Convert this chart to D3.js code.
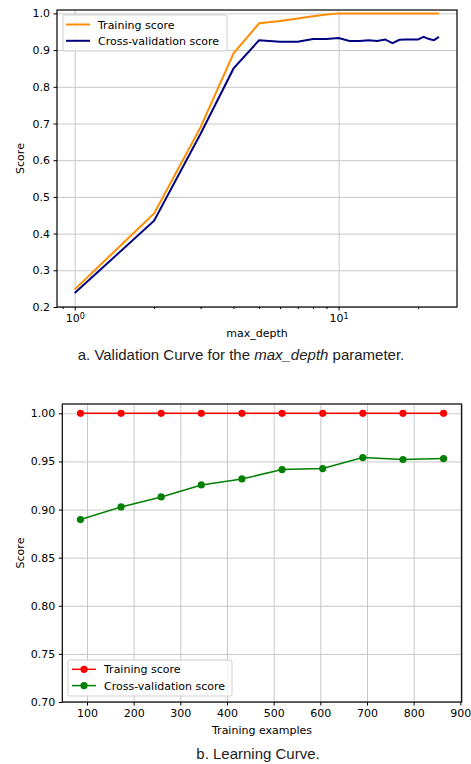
<!DOCTYPE html>
<html>
<head>
<meta charset="utf-8">
<script src="https://cdn.jsdelivr.net/npm/d3@7"></script>
<style>
    body { margin: 0; background: #fff; }
    svg { display: block; }
    .tick text { font-family: "DejaVu Sans", sans-serif; font-size: 11px; fill: #000; }
    .grid line { stroke: #c8c8c8; stroke-width: 1; }
    .grid path { display: none; }
    .lbl { font-family: "DejaVu Sans", sans-serif; font-size: 11px; fill: #000; }
    .caption { font-family: "Liberation Sans", Arial, sans-serif; font-size: 15px; fill: #222; }
</style>
</head>
<body>
<svg width="471" height="764"></svg>
<script>
// validation curve (max_depth)
const depths = [1, 2, 3, 4, 5, 6, 7, 8, 9, 10, 11, 12, 13, 14, 15, 16, 17, 18, 19, 20, 21, 22, 23, 24];
const depthTrain = [0.248, 0.455, 0.690, 0.891, 0.973, 0.979, 0.986, 0.992, 0.997, 1.0, 1.0, 1.0,
    1.0, 1.0, 1.0, 1.0, 1.0, 1.0, 1.0, 1.0, 1.0, 1.0, 1.0, 1.0];
const depthCV = [0.238, 0.435, 0.672, 0.850, 0.927, 0.923, 0.923, 0.930, 0.930, 0.933, 0.925, 0.925,
    0.927, 0.925, 0.929, 0.919, 0.928, 0.929, 0.929, 0.929, 0.936, 0.930, 0.927, 0.936];

// learning curve
const sizes = [86, 173, 259, 345, 432, 518, 605, 691, 777, 864];
const sizeTrain = [1.0, 1.0, 1.0, 1.0, 1.0, 1.0, 1.0, 1.0, 1.0, 1.0];
const sizeCV = [0.8896, 0.9027, 0.9131, 0.9256, 0.9318, 0.9416, 0.9426, 0.9540, 0.9520, 0.9530];

const yTicksA = [0.2, 0.3, 0.4, 0.5, 0.6, 0.7, 0.8, 0.9, 1.0];
const yTicksB = [0.70, 0.75, 0.80, 0.85, 0.90, 0.95, 1.00];
const xTicksB = [100, 200, 300, 400, 500, 600, 700, 800, 900];

const svg = d3.select("svg");

// ---------- chart a ----------
const a = {left: 57, right: 457, top: 10, bottom: 307};
const xa = d3.scaleLog().domain([0.857, 28.1]).range([a.left, a.right]);
const ya = d3.scaleLinear().domain([0.2, 1.0092]).range([a.bottom, a.top]);

const ga = svg.append("g");
ga.append("g").attr("class", "grid")
    .attr("transform", `translate(0,${a.bottom})`)
    .call(d3.axisBottom(xa).tickValues([1, 10]).tickSize(-(a.bottom - a.top)).tickFormat(""));
ga.append("g").attr("class", "grid")
    .attr("transform", `translate(${a.left},0)`)
    .call(d3.axisLeft(ya).tickValues(yTicksA).tickSize(-(a.right - a.left)).tickFormat(""));

const lineA = d3.line().x((d, i) => xa(depths[i])).y(d => ya(d));
ga.append("path").datum(depthTrain)
    .attr("d", lineA).attr("fill", "none").attr("stroke", "#ff8c00").attr("stroke-width", 2);
ga.append("path").datum(depthCV)
    .attr("d", lineA).attr("fill", "none").attr("stroke", "#000080").attr("stroke-width", 2);

ga.append("rect")
    .attr("x", a.left).attr("y", a.top)
    .attr("width", a.right - a.left).attr("height", a.bottom - a.top)
    .attr("fill", "none").attr("stroke", "#000").attr("stroke-width", 1.2);

const xAxisA = ga.append("g")
    .attr("transform", `translate(0,${a.bottom})`)
    .call(d3.axisBottom(xa).tickValues([1, 10]).tickSize(3.5).tickPadding(4).tickFormat(""));
xAxisA.select(".domain").remove();
xAxisA.selectAll(".tick text").each(function (d) {
    const t = d3.select(this);
    t.append("tspan").text("10");
    t.append("tspan").attr("dy", "-0.45em").attr("font-size", "8px").text(Math.round(Math.log10(d)));
});
const minorA = ga.append("g")
    .attr("transform", `translate(0,${a.bottom})`)
    .call(d3.axisBottom(xa).tickValues([0.9, 2, 3, 4, 5, 6, 7, 8, 9, 20]).tickSize(2).tickFormat(""));
minorA.select(".domain").remove();

const yAxisA = ga.append("g")
    .attr("transform", `translate(${a.left},0)`)
    .call(d3.axisLeft(ya).tickValues(yTicksA).tickSize(3.5).tickPadding(3.5).tickFormat(d3.format(".1f")));
yAxisA.select(".domain").remove();

ga.append("text").attr("class", "lbl")
    .attr("x", (a.left + a.right) / 2).attr("y", 337)
    .attr("text-anchor", "middle").text("max_depth");
ga.append("text").attr("class", "lbl")
    .attr("transform", `translate(24,${(a.top + a.bottom) / 2}) rotate(-90)`)
    .attr("text-anchor", "middle").text("Score");

// legend a
const legA = ga.append("g");
legA.append("rect").attr("x", 63).attr("y", 15).attr("width", 164).attr("height", 36)
    .attr("rx", 2).attr("fill", "#fff").attr("fill-opacity", 0.8).attr("stroke", "#d0d0d0");
[["Training score", "#ff8c00"], ["Cross-validation score", "#000080"]].forEach((e, i) => {
    const yy = 24.5 + i * 16.3;
    legA.append("line").attr("x1", 66).attr("x2", 90).attr("y1", yy).attr("y2", yy)
        .attr("stroke", e[1]).attr("stroke-width", 2);
    legA.append("text").attr("class", "lbl").attr("x", 98).attr("y", yy + 4).text(e[0]);
});

const capA = svg.append("text").attr("class", "caption")
    .attr("x", 241).attr("y", 360).attr("text-anchor", "middle");
capA.append("tspan").text("a. Validation Curve for the ");
capA.append("tspan").attr("font-style", "italic").text("max_depth");
capA.append("tspan").text(" parameter.");

// ---------- chart b ----------
const b = {left: 62.3, right: 461.7, top: 404, bottom: 702};
const xb = d3.scaleLinear().domain([47.1, 902.9]).range([b.left, b.right]);
const yb = d3.scaleLinear().domain([0.70, 1.0097]).range([b.bottom, b.top]);

const gb = svg.append("g");
gb.append("g").attr("class", "grid")
    .attr("transform", `translate(0,${b.bottom})`)
    .call(d3.axisBottom(xb).tickValues(xTicksB).tickSize(-(b.bottom - b.top)).tickFormat(""));
gb.append("g").attr("class", "grid")
    .attr("transform", `translate(${b.left},0)`)
    .call(d3.axisLeft(yb).tickValues(yTicksB).tickSize(-(b.right - b.left)).tickFormat(""));

const lineB = d3.line().x((d, i) => xb(sizes[i])).y(d => yb(d));
[[sizeTrain, "#ff0000"], [sizeCV, "#008000"]].forEach(s => {
    gb.append("path").datum(s[0])
        .attr("d", lineB).attr("fill", "none").attr("stroke", s[1]).attr("stroke-width", 1.5);
    gb.selectAll(null).data(s[0]).enter().append("circle")
        .attr("cx", (d, i) => xb(sizes[i])).attr("cy", d => yb(d))
        .attr("r", 3.6).attr("fill", s[1]);
});

gb.append("rect")
    .attr("x", b.left).attr("y", b.top)
    .attr("width", b.right - b.left).attr("height", b.bottom - b.top)
    .attr("fill", "none").attr("stroke", "#000").attr("stroke-width", 1.2);
gb.append("line").attr("x1", b.left).attr("x2", b.right).attr("y1", b.top).attr("y2", b.top)
    .attr("stroke", "#666").attr("stroke-width", 1.5);

const xAxisB = gb.append("g")
    .attr("transform", `translate(0,${b.bottom})`)
    .call(d3.axisBottom(xb).tickValues(xTicksB).tickSize(3.5).tickPadding(4));
xAxisB.select(".domain").remove();
const yAxisB = gb.append("g")
    .attr("transform", `translate(${b.left},0)`)
    .call(d3.axisLeft(yb).tickValues(yTicksB).tickSize(3.5).tickPadding(3.5).tickFormat(d3.format(".2f")));
yAxisB.select(".domain").remove();

gb.append("text").attr("class", "lbl")
    .attr("x", (b.left + b.right) / 2).attr("y", 734)
    .attr("text-anchor", "middle").text("Training examples");
gb.append("text").attr("class", "lbl")
    .attr("transform", `translate(24,${(b.top + b.bottom) / 2}) rotate(-90)`)
    .attr("text-anchor", "middle").text("Score");

// legend b
const legB = gb.append("g");
legB.append("rect").attr("x", 68).attr("y", 660).attr("width", 164).attr("height", 36)
    .attr("rx", 2).attr("fill", "#fff").attr("fill-opacity", 0.8).attr("stroke", "#d0d0d0");
[["Training score", "#ff0000"], ["Cross-validation score", "#008000"]].forEach((e, i) => {
    const yy = 669.3 + i * 16.3;
    legB.append("line").attr("x1", 72).attr("x2", 96).attr("y1", yy).attr("y2", yy)
        .attr("stroke", e[1]).attr("stroke-width", 1.5);
    legB.append("circle").attr("cx", 84).attr("cy", yy).attr("r", 3.6).attr("fill", e[1]);
    legB.append("text").attr("class", "lbl").attr("x", 104).attr("y", yy + 4).text(e[0]);
});

svg.append("text").attr("class", "caption")
    .attr("x", 258).attr("y", 759).attr("text-anchor", "middle").text("b. Learning Curve.");
</script>
</body>
</html>
